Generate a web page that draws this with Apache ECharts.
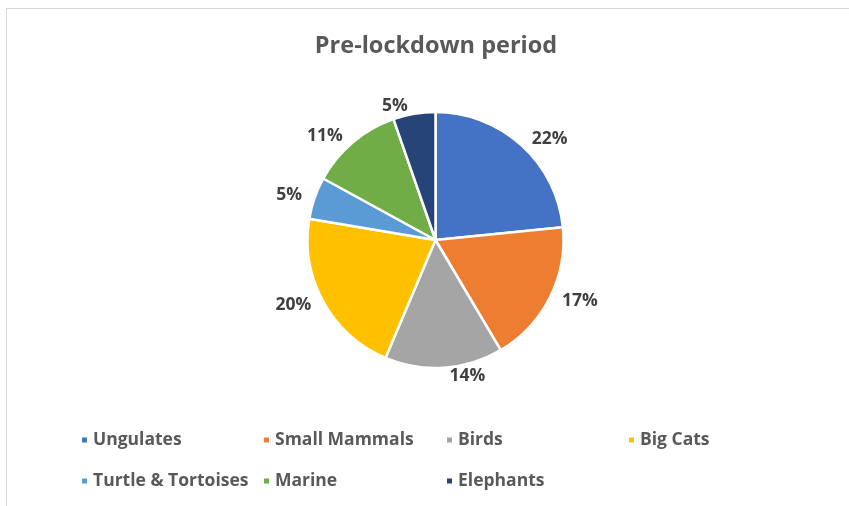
<!DOCTYPE html>
<html>
<head>
<meta charset="utf-8">
<script src="https://cdn.jsdelivr.net/npm/echarts@6/dist/echarts.min.js"></script>
<style>
  html, body { margin: 0; padding: 0; background: #fff; }
  #wrap { position: relative; width: 849px; height: 506px; overflow: hidden; }
  #frame { position: absolute; left: 6px; top: 8px; right: -2px; bottom: -2px;
           border-top: 1px solid #d9d9d9; border-left: 1px solid #d9d9d9; }
  #chart { position: absolute; left: 0; top: 0; width: 849px; height: 506px; }
</style>
</head>
<body>
<div id="wrap"><div id="frame"></div><div id="chart"></div></div>
<script>
const titleText = 'Pre-lockdown period';
const categories = ['Ungulates', 'Small Mammals', 'Birds', 'Big Cats', 'Turtle & Tortoises', 'Marine', 'Elephants'];
const values = [22, 17, 14, 20, 5, 11, 5];
const colors = ['#4472C4', '#ED7D31', '#A5A5A5', '#FFC000', '#5B9BD5', '#70AD47', '#264478'];

const FONT = '"Open Sans", sans-serif';
const data = categories.map((name, i) => ({ name: name, value: values[i], itemStyle: { color: colors[i] } }));

// legend grid: 4 columns, 2 rows
const colLeft = [80, 262, 445, 627];
const rowTop = [431, 472];
const legends = categories.map((name, i) => ({
  data: [name],
  left: colLeft[i % 4],
  top: rowTop[Math.floor(i / 4)],
  orient: 'horizontal',
  icon: 'rect',
  itemWidth: 7,
  itemHeight: 7,
  itemGap: 0,
  padding: 0,
  selectedMode: false,
  textStyle: { fontFamily: FONT, fontSize: 17.5, fontWeight: 'bold', color: '#595959' }
}));

const chart = echarts.init(document.getElementById('chart'), null, { renderer: 'canvas' });
chart.setOption({
  animation: false,
  backgroundColor: 'transparent',
  title: {
    text: titleText,
    left: 431,
    textAlign: 'center',
    top: 29,
    textStyle: { fontFamily: FONT, fontSize: 23.5, fontWeight: 'bold', color: '#595959' }
  },
  legend: legends,
  series: [
    {
      type: 'pie',
      center: [435.5, 240],
      radius: [0, 128],
      startAngle: 90,
      clockwise: true,
      data: data,
      itemStyle: { borderColor: '#ffffff', borderWidth: 2.5 },
      label: {
        show: true,
        position: 'outside',
        alignTo: 'none',
        formatter: '{c}%',
        distanceToLabelLine: 5,
        fontFamily: FONT,
        fontSize: 17.5,
        fontWeight: 'bold',
        color: '#404040'
      },
      labelLine: { show: false, length: 8, length2: 0 },
      avoidLabelOverlap: false,
      emphasis: { disabled: true }
    }
  ]
});
</script>
</body>
</html>
